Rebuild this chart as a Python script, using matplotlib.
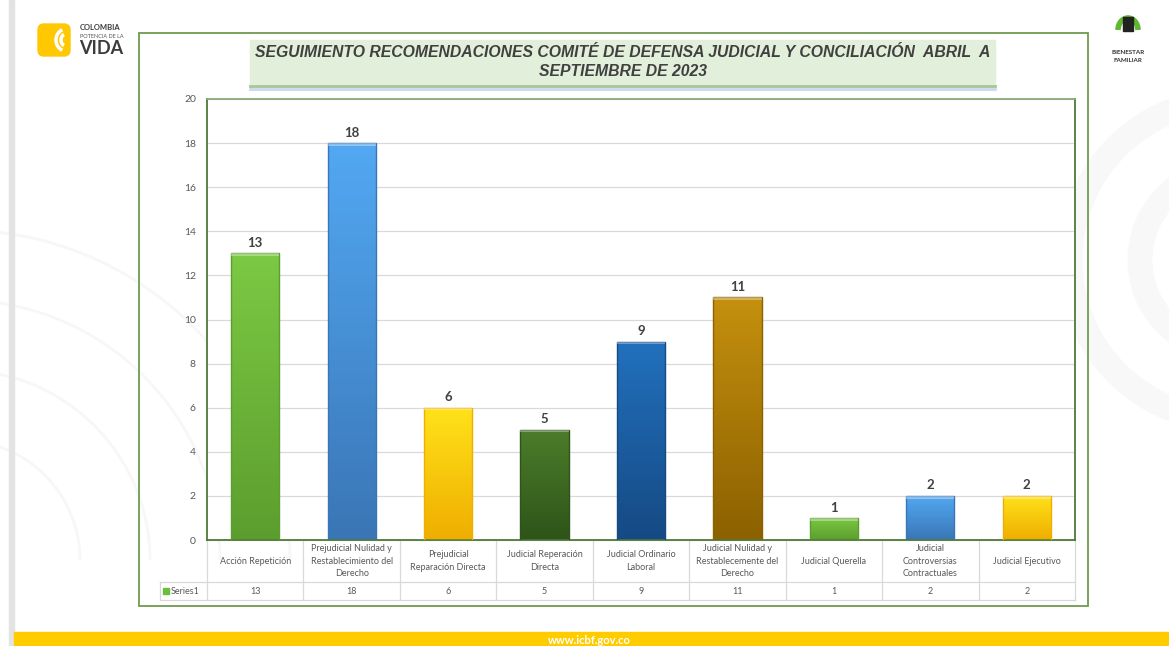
import numpy as np
import matplotlib.pyplot as plt
from matplotlib.patches import Rectangle, FancyBboxPatch, Arc
from matplotlib.lines import Line2D
from matplotlib.colors import LinearSegmentedColormap

# datos
categorias = ["Acción Repetición",
              "Prejudicial Nulidad y\nRestablecimiento del\nDerecho",
              "Prejudicial\nReparación Directa",
              "Judicial Reperación\nDirecta",
              "Judicial Ordinario\nLaboral",
              "Judicial Nulidad y\nRestablecemente del\nDerecho",
              "Judicial Querella",
              "Judicial\nControversias\nContractuales",
              "Judicial Ejecutivo"]
valores = [13, 18, 6, 5, 9, 11, 1, 2, 2]
serie = "Series1"
titulo = "SEGUIMIENTO RECOMENDACIONES COMITÉ DE DEFENSA JUDICIAL Y CONCILIACIÓN  ABRIL  A\nSEPTIEMBRE DE 2023"

# colores (arriba, abajo) por barra
colores = [("#7cc944", "#5c9e2e"), ("#52a8f2", "#3a76b6"), ("#ffe21a", "#efae00"),
           ("#4c7d2a", "#2e5419"), ("#2270bd", "#154a84"), ("#c4900e", "#8c6100"),
           ("#7cc944", "#5c9e2e"), ("#52a8f2", "#3a76b6"), ("#ffe21a", "#efae00")]

W, H = 1169, 646
fig = plt.figure(figsize=(W / 100, H / 100), dpi=100)
fig.patch.set_facecolor("white")

def px(x, y):
    return x / W, 1 - y / H

fuente = ["Lato", "DejaVu Sans"]

# fondo: barra izquierda y franja inferior
fig.patches.append(Rectangle(px(9, 646), 5 / W, 646 / H, transform=fig.transFigure,
                             color="#e3e3e3", zorder=0))
fig.patches.append(Rectangle(px(14, 646), (W - 14) / W, 14 / H, transform=fig.transFigure,
                             color="#ffcc00", zorder=0))
fig.text(*px(589, 640), "www.icbf.gov.co", color="white", fontsize=8, fontweight="bold",
         ha="center", va="center", family=fuente)

# arcos de marca de agua
bg = fig.add_axes([0, 0, 1, 1], zorder=-1)
bg.set_xlim(0, W)
bg.set_ylim(H, 0)
bg.axis("off")
for r in [120, 190, 260, 330]:
    bg.add_patch(Arc((-40, 560), 2 * r, 2 * r, theta1=270, theta2=360, color="#f7f7f7", lw=2))
for r in [90, 160]:
    bg.add_patch(Arc((1230, 260), 2 * r, 2 * r, theta1=90, theta2=270, color="#f8f8f8", lw=18))

# logos
bg.add_patch(FancyBboxPatch((38, 24), 32, 32, boxstyle="round,pad=0,rounding_size=6",
                            color="#ffc800"))
bg.add_patch(Arc((66, 40), 20, 22, theta1=110, theta2=250, color="white", lw=2.5))
bg.add_patch(Arc((66, 40), 10, 12, theta1=110, theta2=250, color="white", lw=2.5))
bg.text(80, 28, "COLOMBIA", fontsize=5.5, fontweight="bold", color="#3c3c3c", va="center", family=fuente)
bg.text(80, 36, "POTENCIA DE LA", fontsize=4, color="#555555", va="center", family=fuente)
bg.text(79, 48, "VIDA", fontsize=13, fontweight="bold", color="#3c3c3c", va="center", family=fuente)
bg.add_patch(Arc((1128, 30), 20, 24, theta1=180, theta2=360, color="#5fb82e", lw=4))
bg.add_patch(Rectangle((1123, 17), 10, 14, color="#222222"))
bg.text(1128, 53, "BIENESTAR", fontsize=4.5, fontweight="bold", color="#333333", ha="center", va="center", family=fuente)
bg.text(1128, 61, "FAMILIAR", fontsize=4.5, fontweight="bold", color="#333333", ha="center", va="center", family=fuente)

# marco del gráfico
bg.add_patch(Rectangle((139, 33), 949, 573, fill=False, ec="#6f9a4f", lw=1.3))
# caja del título
bg.add_patch(Rectangle((250, 40), 745, 47, color="#e2efda"))
bg.add_line(Line2D([250, 995], [86, 86], color="#a9c59a", lw=2))
bg.add_line(Line2D([250, 995], [89, 89], color="#c9d9ef", lw=2))
bg.text(623, 62, titulo, ha="center", va="center", fontsize=11.3, fontweight="bold",
        fontstyle="italic", color="#404040", family=["Liberation Sans", "DejaVu Sans"],
        linespacing=1.3)
# texto borroso
for lw, a in [(14, 0.05), (9, 0.08), (5, 0.1)]:
    bg.add_line(Line2D([290, 955], [121, 121], color="#999999", lw=lw, alpha=a,
                       solid_capstyle="round"))

# área de trazado
x0, x1, y0, y1 = 207, 1075, 99, 540
ax = fig.add_axes([x0 / W, 1 - y1 / H, (x1 - x0) / W, (y1 - y0) / H])
ax.set_xlim(-0.5, len(valores) - 0.5)
ax.set_ylim(0, 20)
ax.set_yticks(range(0, 21, 2))
ax.set_xticks([])
ax.tick_params(axis="y", length=0, labelsize=7.5, labelcolor="#595959", pad=8)
for t in ax.get_yticklabels():
    t.set_family(fuente)
ax.grid(axis="y", color="#d9d9d9", lw=0.9)
ax.set_axisbelow(True)
for s in ax.spines.values():
    s.set_color("#4d7a35")
    s.set_linewidth(1.3)
ax.spines["top"].set_color("#8aa878")

x = np.arange(len(valores))
barras = ax.bar(x, valores, width=0.5, color="none", edgecolor="none", zorder=2)
grad = np.linspace(0, 1, 64).reshape(-1, 1)
for b, v, (c1, c2) in zip(barras, valores, colores):
    cmap = LinearSegmentedColormap.from_list("g", [c2, c1])
    bx, bw = b.get_x(), b.get_width()
    im = ax.imshow(grad, extent=[bx, bx + bw, 0, v], origin="lower", cmap=cmap,
                   aspect="auto", zorder=2)
    im.set_clip_path(b)
    ax.add_patch(Rectangle((bx, 0), bw, v, fill=False, ec=c2, lw=1.0, zorder=3))
    ax.add_patch(Rectangle((bx, v - 0.12), bw, 0.12, color="white", alpha=0.35, lw=0, zorder=3))
    ax.text(b.get_x() + bw / 2, v + 0.2, str(v), ha="center", va="bottom", fontsize=9.5,
            fontweight="bold", color="#404040", family=fuente)
ax.set_xlim(-0.5, len(valores) - 0.5)
ax.set_ylim(0, 20)

# tabla de datos
gris = "#d9d9d9"
fila1, fila2, fila3 = 540, 582, 600
celda = (x1 - x0) / len(valores)
for i in range(len(valores) + 1):
    xx = x0 + i * celda
    bg.add_line(Line2D([xx, xx], [fila1, fila3], color=gris, lw=0.9))
bg.add_line(Line2D([160, 160], [fila2, fila3], color=gris, lw=0.9))
bg.add_line(Line2D([x0, x1], [fila1, fila1], color=gris, lw=0.9))
bg.add_line(Line2D([160, x1], [fila2, fila2], color=gris, lw=0.9))
bg.add_line(Line2D([160, x1], [fila3, fila3], color=gris, lw=0.9))
for i, (c, v) in enumerate(zip(categorias, valores)):
    cx = x0 + (i + 0.5) * celda
    bg.text(cx, (fila1 + fila2) / 2, c, ha="center", va="center", fontsize=6.5,
            color="#595959", family=fuente, linespacing=1.45)
    bg.text(cx, (fila2 + fila3) / 2, str(v), ha="center", va="center", fontsize=6.5,
            color="#595959", family=fuente)
bg.add_patch(Rectangle((163, 588), 6, 6, color="#6cbf3c"))
bg.text(171, (fila2 + fila3) / 2, serie, ha="left", va="center", fontsize=6.5,
        color="#595959", family=fuente)

fig.savefig("out.png", dpi=100)
